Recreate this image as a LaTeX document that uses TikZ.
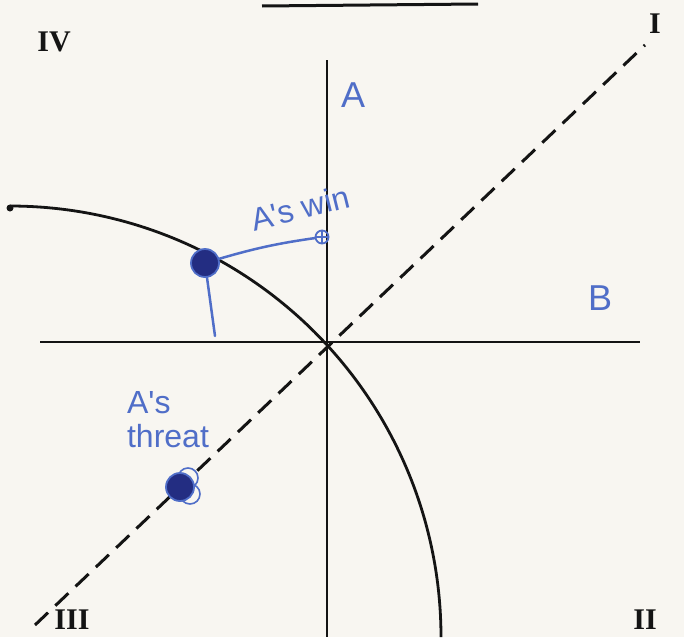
\documentclass[tikz,border=0pt]{standalone}
\usepackage{fontspec}
\setmainfont{Liberation Serif}
\newfontfamily\handfont{Liberation Sans}
\definecolor{paper}{RGB}{248,246,241}
\definecolor{pen}{RGB}{80,110,200}
\definecolor{inkblue}{RGB}{35,45,130}
\definecolor{ink}{RGB}{20,20,20}
\begin{document}
\begin{tikzpicture}[x=1pt,y=-1pt,
  axis/.style={draw=ink,line width=2.8pt},
  dashline/.style={draw=ink,line width=3pt,dash pattern=on 18pt off 10pt},
  roman/.style={font=\bfseries\fontsize{30}{30}\selectfont,text=ink,inner sep=0pt},
  penlabel/.style={font=\handfont\fontsize{36}{36}\selectfont,text=pen,inner sep=0pt},
  handlabel/.style={font=\handfont\fontsize{32}{34}\selectfont,text=pen,inner sep=0pt},
  blob/.style={circle,fill=inkblue,draw=pen,line width=1.8pt,minimum size=28pt,inner sep=0pt},
  loop/.style={circle,draw=pen,line width=1.6pt,minimum size=20pt,inner sep=0pt},
  ring/.style={circle,draw=pen,line width=1.8pt,minimum size=13pt,inner sep=0pt},
  penline/.style={draw=pen,line width=2.5pt,line cap=round}]
\useasboundingbox (0,0) rectangle (684,637);
\fill[paper] (0,0) rectangle (684,637);
% title underline
\coordinate (t1) at (262,6);
\coordinate (t2) at (478,4);
\draw[ink,line width=3pt] (t1) -- (t2);
% axes
\coordinate (Atop) at (327,60);
\coordinate (Abot) at (327,637);
\coordinate (Bl) at (40,342);
\coordinate (Br) at (640,342);
\draw[axis] (Atop) -- (Abot);
\draw[axis] (Bl) -- (Br);
% diagonal
\coordinate (dIII) at (35,625);
\coordinate (dI) at (645,45);
\draw[dashline] (dIII) -- (dI);
% curve (circle arc centred at (10,637))
\draw[axis] plot[domain=0:90,samples=90,smooth] ({10+431*cos(\x)},{637-431*sin(\x)});
\fill[ink] (10,208) circle (3.5);
% roman numerals
\node[roman] (I) at (655,24) {I};
\node[roman] (II) at (645,620) {II};
\node[roman] (III) at (72,620) {III};
\node[roman] (IV) at (54,42) {IV};
% axis labels
\node[penlabel] (A) at (353,95) {A};
\node[penlabel] (B) at (600,298) {B};
% A's win
\node[handlabel,rotate=14] (win) at (300,208) {A's win};
\node[blob] (b1) at (205,263) {};
\node[ring] (c1) at (322,237) {};
\draw[pen,line width=1.4pt] (c1.north) -- (c1.south) (c1.west) -- (c1.east);
\coordinate (tail) at (215,336);
\draw[penline] (b1) to[bend left=4] (c1);
\draw[penline] (b1) -- (tail);
% A's threat
\node[handlabel,align=left] (threat) at (168,420) {A's\\threat};
\node[loop] (l1) at (190,494) {};
\node[loop] (l2) at (188,478) {};
\node[blob] (b2) at (180,487) {};
\end{tikzpicture}
\end{document}
